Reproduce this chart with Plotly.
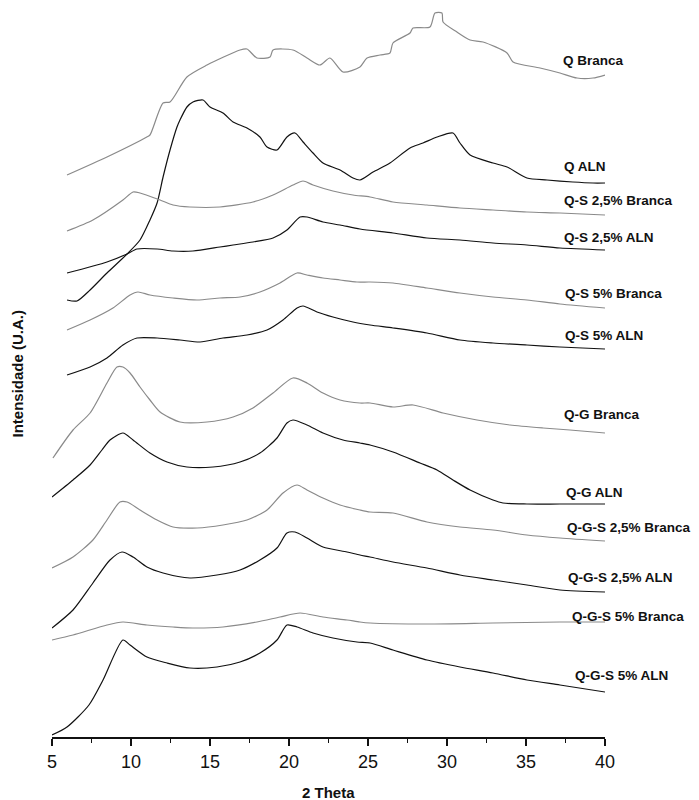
import plotly.graph_objects as go

# Stacked XRD patterns (2 Theta vs. offset intensity, arbitrary units)
theta_q_branca = [5.95, 8.48, 11.0, 11.2, 12.03, 12.47, 13.54, 14.81, 16.9, 17.34, 17.97, 18.8, 18.99,
                  20.25, 21.14, 21.96, 22.59, 23.42, 24.49, 24.94, 25.76, 26.39, 26.58, 27.66, 27.85,
                  28.92, 29.24, 29.68, 29.75, 30.63, 31.46, 32.28, 33.8, 34.18, 35.89, 37.15, 38.23,
                  39.24, 40.0]
int_q_branca = [625, 643, 663, 665, 697, 698, 723, 735, 750, 751, 742, 743, 750,
                750, 742, 735, 742, 728, 733, 742, 745, 747, 757, 767, 772,
                773, 787, 787, 778, 768, 760, 758, 747, 738, 732, 727, 722,
                722, 725]

theta_q_aln = [5.95, 6.58, 7.41, 8.48, 9.75, 10.57, 11.2, 11.65, 12.03, 12.47, 12.91, 13.1,
               13.54, 13.92, 14.56, 15.0, 15.82, 16.46, 17.34, 18.16, 18.61, 19.24, 19.87, 20.38,
               20.89, 21.52, 22.15, 23.23, 24.05, 24.49, 25.32, 26.39, 27.66, 28.48, 29.37, 30.38,
               30.82, 31.46, 32.91, 33.8, 35.06, 36.33, 37.97, 39.24, 40.0]
int_q_aln = [500, 499, 510, 527, 546, 560, 580, 597, 623, 650, 673, 680,
             693, 698, 700, 693, 687, 678, 672, 663, 653, 650, 663, 667,
             658, 647, 637, 630, 622, 620, 628, 637, 652, 657, 663, 667,
             657, 645, 637, 633, 622, 620, 618, 617, 617]

theta_qs25_branca = [5.95, 7.59, 9.49, 10.13, 10.57, 11.84, 12.66, 13.73, 15.63, 17.72, 18.99, 20.25,
                     20.89, 21.52, 22.78, 24.05, 25.13, 26.58, 28.73, 30.82, 32.91, 35.06, 37.15, 40.0]
int_qs25_branca = [569, 580, 600, 608, 607, 600, 595, 593, 593, 598, 605, 615,
                   619, 615, 609, 605, 603, 598, 595, 592, 590, 588, 587, 585]

theta_qs25_aln = [5.95, 8.48, 9.75, 10.38, 11.65, 12.66, 13.92, 15.63, 16.46, 17.72, 18.99,
                  19.87, 20.7, 21.14, 22.15, 23.23, 24.49, 26.58, 28.73, 30.82, 32.91, 35.06, 37.15, 40.0]
int_qs25_aln = [527, 538, 546, 551, 551, 549, 549, 553, 555, 558, 562,
                570, 583, 583, 578, 575, 571, 567, 562, 560, 557, 555, 552, 550]

theta_qs5_branca = [5.95, 7.41, 8.86, 9.94, 10.44, 11.2, 12.66, 14.18, 15.63, 16.9, 18.16, 19.43,
                    20.51, 21.14, 22.15, 23.23, 24.3, 25.13, 26.58, 28.73, 30.82, 32.91, 35.06, 37.15, 40.0]
int_qs5_branca = [470, 480, 492, 505, 508, 505, 502, 500, 502, 503, 508, 517,
                  527, 525, 522, 520, 518, 518, 517, 512, 507, 503, 500, 496, 492]

theta_qs5_aln = [5.95, 7.41, 8.48, 9.49, 10.38, 11.65, 13.1, 14.37, 15.82, 17.34, 18.61, 19.62,
                 20.51, 20.89, 21.77, 22.78, 24.05, 25.13, 26.58, 28.73, 30.82, 32.91, 35.06, 37.15, 40.0]
int_qs5_aln = [425, 433, 442, 455, 462, 462, 460, 458, 462, 465, 470, 480,
               492, 494, 488, 483, 478, 475, 472, 467, 460, 457, 455, 453, 451]

theta_qg_branca = [5.06, 6.33, 7.41, 8.48, 9.11, 9.49, 9.94, 10.57, 11.2, 11.84, 13.1, 14.81, 16.46,
                   17.72, 18.99, 20.25, 21.14, 22.15, 23.23, 24.49, 25.13, 26.58, 27.85, 29.75,
                   31.9, 33.99, 36.08, 37.78, 40.0]
int_qg_branca = [342, 370, 387, 417, 433, 433, 427, 413, 400, 388, 378, 378, 383,
                 392, 407, 422, 417, 407, 400, 397, 397, 393, 395, 387,
                 380, 375, 372, 370, 367]

theta_qg_aln = [5.0, 6.33, 7.41, 8.16, 8.67, 9.49, 10.13, 11.2, 12.28, 13.54, 15.19, 16.9, 18.16,
                19.24, 19.87, 20.25, 21.14, 22.15, 23.42, 24.49, 25.13, 26.58, 28.29, 29.37, 30.38,
                31.46, 32.91, 33.54, 35.06, 37.15, 40.0]
int_qg_aln = [303, 320, 335, 350, 360, 367, 360, 347, 338, 333, 333, 338, 347,
              362, 377, 380, 375, 367, 360, 357, 355, 348, 337, 330, 320,
              310, 300, 297, 296, 296, 296]

theta_qgs25_branca = [5.0, 6.33, 7.59, 8.48, 9.3, 9.75, 10.57, 11.65, 12.66, 14.18, 15.82, 17.34,
                      18.61, 19.62, 20.51, 21.14, 22.15, 23.23, 24.49, 25.13, 26.58, 28.73, 30.82,
                      32.91, 35.06, 37.15, 40.0]
int_qgs25_branca = [232, 243, 260, 280, 298, 298, 290, 280, 273, 272, 275, 280,
                    290, 307, 315, 310, 302, 295, 290, 288, 287, 278, 273,
                    270, 265, 262, 259]

theta_qgs25_aln = [5.0, 6.33, 7.59, 8.67, 9.43, 10.13, 11.01, 12.03, 13.73, 15.44, 16.9, 18.16,
                   19.24, 19.87, 20.38, 21.14, 22.15, 23.67, 24.49, 25.13, 26.58, 28.73, 30.82,
                   32.91, 35.06, 37.15, 40.0]
int_qgs25_aln = [172, 190, 217, 240, 248, 243, 233, 227, 222, 225, 230, 240,
                 252, 267, 268, 262, 253, 248, 245, 243, 238, 232, 225,
                 220, 215, 210, 208]

theta_qgs5_branca = [5.0, 6.33, 8.48, 9.49, 11.01, 12.66, 13.92, 15.82, 17.97, 19.43, 20.7, 22.15,
                     23.67, 24.49, 25.13, 28.73, 32.91, 37.15, 40.0]
int_qgs5_branca = [160, 165, 175, 178, 175, 173, 172, 173, 178, 183, 187, 183,
                   180, 178, 177, 176, 177, 178, 178]

theta_qgs5_aln = [5.0, 5.95, 7.34, 8.23, 9.49, 9.94, 11.01, 12.28, 13.73, 15.44, 16.9, 18.16,
                  19.24, 19.87, 20.51, 21.52, 22.78, 24.3, 25.13, 26.58, 28.73, 30.82, 32.91,
                  35.06, 37.15, 40.0]
int_qgs5_aln = [65, 73, 95, 120, 160, 155, 143, 137, 132, 133, 138, 147,
                160, 175, 173, 167, 162, 158, 157, 150, 140, 133, 127,
                120, 115, 108]

sample_names = ["Q Branca", "Q ALN", "Q-S 2,5% Branca", "Q-S 2,5% ALN",
                "Q-S 5% Branca", "Q-S 5% ALN", "Q-G Branca", "Q-G ALN",
                "Q-G-S 2,5% Branca", "Q-G-S 2,5% ALN", "Q-G-S 5% Branca", "Q-G-S 5% ALN"]
patterns = [
    (theta_q_branca, int_q_branca), (theta_q_aln, int_q_aln),
    (theta_qs25_branca, int_qs25_branca), (theta_qs25_aln, int_qs25_aln),
    (theta_qs5_branca, int_qs5_branca), (theta_qs5_aln, int_qs5_aln),
    (theta_qg_branca, int_qg_branca), (theta_qg_aln, int_qg_aln),
    (theta_qgs25_branca, int_qgs25_branca), (theta_qgs25_aln, int_qgs25_aln),
    (theta_qgs5_branca, int_qgs5_branca), (theta_qgs5_aln, int_qgs5_aln),
]

# label anchor (2 Theta, intensity) for each pattern name
label_pos = [(37.2, 740), (37.3, 634), (37.3, 600), (37.3, 563), (37.35, 507), (37.35, 465),
             (37.3, 386), (37.4, 308), (37.47, 273), (37.53, 223), (37.78, 184), (37.97, 125)]

GRAY = "#8a8a8a"
BLACK = "#111111"
FONT = "Liberation Sans, Arial, sans-serif"

fig = go.Figure()
for name, (tx, iy) in zip(sample_names, patterns):
    color = GRAY if "Branca" in name else BLACK
    fig.add_trace(go.Scatter(x=tx, y=iy, mode="lines", name=name,
                             line=dict(color=color, width=1.2, shape="spline", smoothing=0.7),
                             showlegend=False))

annotations = []
for name, (lx, ly) in zip(sample_names, label_pos):
    annotations.append(dict(x=lx, y=ly, xref="x", yref="y", text=name, showarrow=False,
                            xanchor="left", yanchor="middle",
                            font=dict(family=FONT, size=13.5, color="#111111", weight="bold")))

# axis titles
annotations.append(dict(x=-0.0615, y=0.5, xref="paper", yref="paper",
                        text="Intensidade (U.A.)", textangle=-90, showarrow=False,
                        xanchor="center", yanchor="middle",
                        font=dict(family=FONT, size=15, color="#111111", weight="bold")))
annotations.append(dict(x=0.5, y=-0.077, xref="paper", yref="paper",
                        text="2 Theta", showarrow=False, xanchor="center", yanchor="middle",
                        font=dict(family=FONT, size=15, color="#111111", weight="bold")))

fig.update_layout(
    width=699, height=800,
    margin=dict(l=52, r=94, t=10, b=63),
    plot_bgcolor="white", paper_bgcolor="white",
    annotations=annotations,
    xaxis=dict(range=[5, 40], showline=True, linecolor="#111111", linewidth=2,
               ticks="outside", ticklen=7, tickwidth=1.5, tickcolor="#111111",
               tick0=5, dtick=5, showgrid=False, zeroline=False,
               tickfont=dict(family=FONT, size=18, color="#111111"),
               minor=dict(ticks="outside", ticklen=4, tickwidth=1.2, tickcolor="#111111",
                          dtick=2.5, tick0=5, showgrid=False)),
    yaxis=dict(range=[63, 790], visible=False),
)

fig.write_html("out.html")
